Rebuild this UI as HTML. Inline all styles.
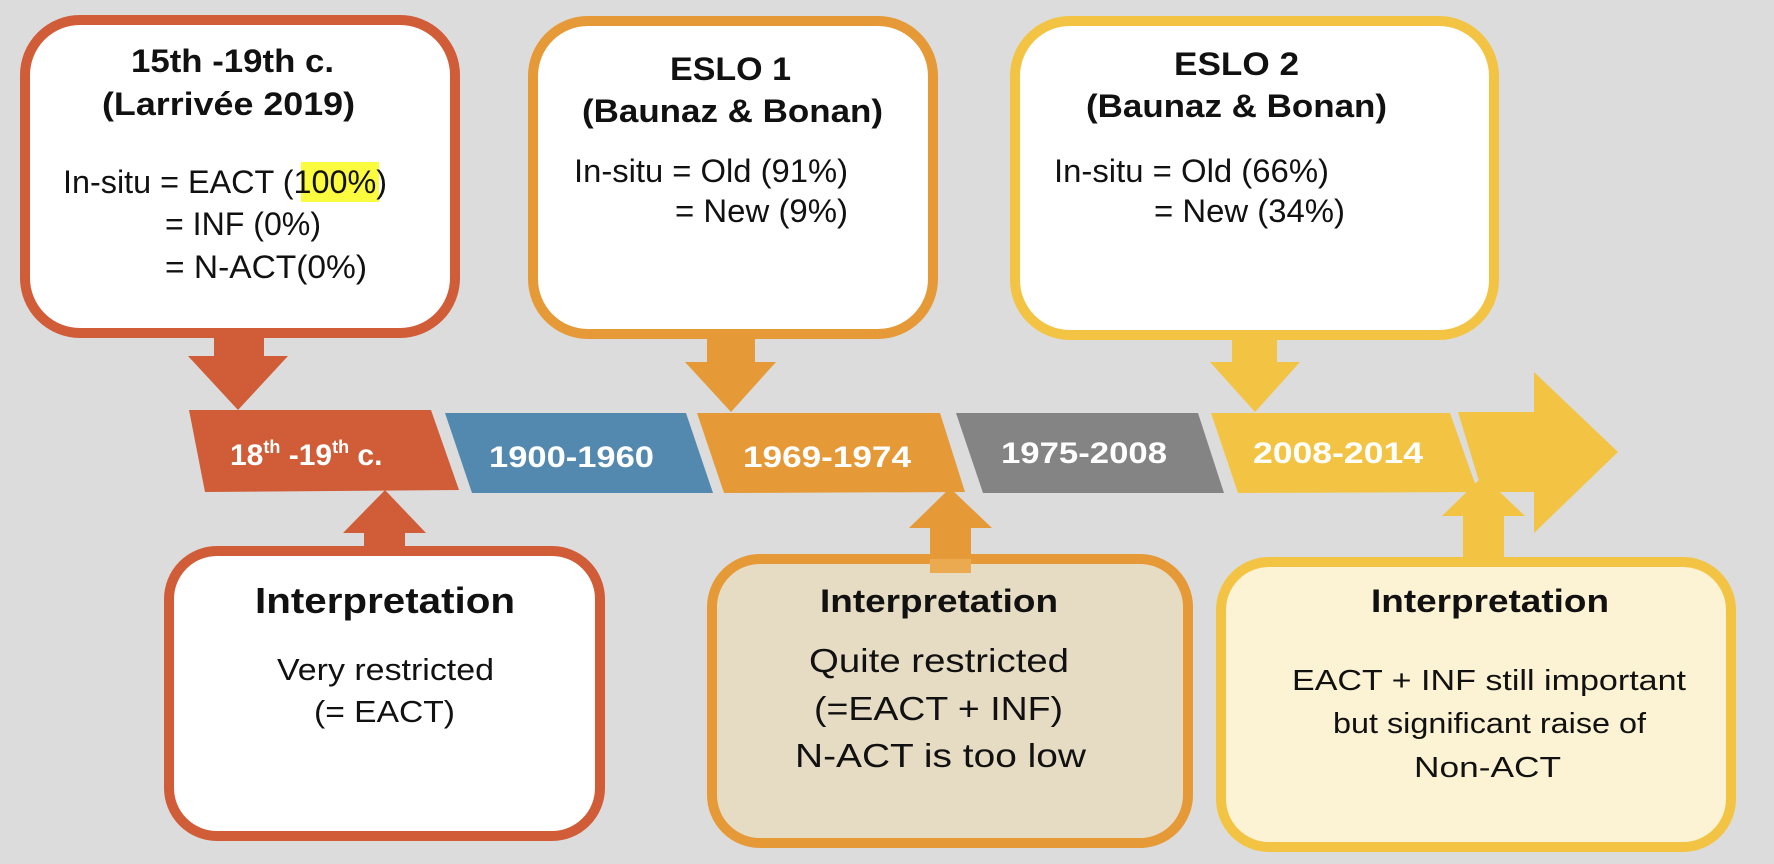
<!DOCTYPE html>
<html><head><meta charset="utf-8"><style>
html,body{margin:0;padding:0;background:#dcdcdc;}
svg{display:block;}
text{font-family:"Liberation Sans",sans-serif;fill:#111;}
.b{font-weight:bold;}
.w{fill:#fff;font-weight:bold;}
</style></head><body>
<svg width="1774" height="864" viewBox="0 0 1774 864" xmlns="http://www.w3.org/2000/svg">
<rect width="1774" height="864" fill="#dcdcdc"/>

<!-- top boxes -->
<rect x="25" y="20" width="430" height="313" rx="55" fill="#fff" stroke="#d05c38" stroke-width="10"/>
<polygon points="214,338 264,338 264,356 288,356 238,410 188,356 214,356" fill="#d05c38"/>
<rect x="533" y="21" width="400" height="313" rx="55" fill="#fff" stroke="#e69937" stroke-width="10"/>
<polygon points="707,339 755,339 755,362 776,362 731,412 685,362 707,362" fill="#e69937"/>
<rect x="1015" y="21" width="479" height="314" rx="55" fill="#fff" stroke="#f3c444" stroke-width="10"/>
<polygon points="1232,340 1277,340 1277,362 1300,362 1255,412 1210,362 1232,362" fill="#f3c444"/>

<!-- timeline -->
<polygon points="189,410 431,410 459,490 205,492" fill="#d05c38"/>
<polygon points="445,413 686,413 713,493 472,493" fill="#5489af"/>
<polygon points="697,413 940,413 965,492 724,493" fill="#e69937"/>
<polygon points="956,413 1198,413 1224,493 983,493" fill="#848484"/>
<polygon points="1211,413 1450,413 1478,492 1238,493" fill="#f3c444"/>
<polygon points="1458,412 1534,412 1534,372 1618,452 1534,533 1534,492 1484,492 1478,478" fill="#f3c444"/>

<!-- bottom arrows -->
<polygon points="364,546 405,546 405,533 426,533 385,490 343,533 364,533" fill="#d05c38"/>
<polygon points="930,572 971,572 971,528 992,528 950,488 909,528 930,528" fill="#e69937"/>
<polygon points="1463,557 1504,557 1504,516 1525,516 1483,476 1442,516 1463,516" fill="#f3c444"/>

<!-- bottom boxes -->
<rect x="169" y="551" width="431" height="285" rx="48" fill="#fff" stroke="#d05c38" stroke-width="10"/>
<rect x="712" y="559" width="476" height="284" rx="48" fill="#e6dcc4" stroke="#e69937" stroke-width="10"/>
<rect x="930" y="559" width="41" height="14" fill="#ecaa50"/>
<rect x="1221" y="562" width="510" height="285" rx="48" fill="#fcf2d4" stroke="#f3c444" stroke-width="10"/>
<rect x="1463" y="557" width="41" height="10" fill="#f3c444"/>

<!-- box1 text -->
<text class="b" x="131" y="72" font-size="32" textLength="203" lengthAdjust="spacingAndGlyphs">15th -19th c.</text>
<text class="b" x="102" y="115" font-size="32" textLength="253" lengthAdjust="spacingAndGlyphs">(Larrivée 2019)</text>
<rect x="301" y="162" width="78" height="40" fill="#fbfb3f"/>
<text x="63" y="193" font-size="32" textLength="324" lengthAdjust="spacingAndGlyphs">In-situ = EACT (100%)</text>
<text x="165" y="235" font-size="32" textLength="156" lengthAdjust="spacingAndGlyphs">= INF (0%)</text>
<text x="165" y="278" font-size="32" textLength="202" lengthAdjust="spacingAndGlyphs">= N-ACT(0%)</text>

<!-- box2 text -->
<text class="b" x="670" y="80" font-size="32" textLength="121" lengthAdjust="spacingAndGlyphs">ESLO 1</text>
<text class="b" x="582" y="122" font-size="32" textLength="301" lengthAdjust="spacingAndGlyphs">(Baunaz &amp; Bonan)</text>
<text x="574" y="182" font-size="32" textLength="274" lengthAdjust="spacingAndGlyphs">In-situ = Old (91%)</text>
<text x="675" y="222" font-size="32" textLength="173" lengthAdjust="spacingAndGlyphs">= New (9%)</text>

<!-- box3 text -->
<text class="b" x="1174" y="75" font-size="32" textLength="125" lengthAdjust="spacingAndGlyphs">ESLO 2</text>
<text class="b" x="1086" y="117" font-size="32" textLength="301" lengthAdjust="spacingAndGlyphs">(Baunaz &amp; Bonan)</text>
<text x="1054" y="182" font-size="32" textLength="275" lengthAdjust="spacingAndGlyphs">In-situ = Old (66%)</text>
<text x="1154" y="222" font-size="32" textLength="191" lengthAdjust="spacingAndGlyphs">= New (34%)</text>

<!-- timeline labels -->
<text class="w" x="230" y="465" font-size="30">18<tspan font-size="18" dy="-12">th</tspan><tspan dy="12"> -19</tspan><tspan font-size="18" dy="-12">th</tspan><tspan dy="12"> c.</tspan></text>
<text class="w" x="489" y="467" font-size="30" textLength="165" lengthAdjust="spacingAndGlyphs">1900-1960</text>
<text class="w" x="743" y="467" font-size="30" textLength="168" lengthAdjust="spacingAndGlyphs">1969-1974</text>
<text class="w" x="1001" y="463" font-size="30" textLength="166" lengthAdjust="spacingAndGlyphs">1975-2008</text>
<text class="w" x="1253" y="463" font-size="30" textLength="170" lengthAdjust="spacingAndGlyphs">2008-2014</text>

<!-- bottom text -->
<text class="b" x="255" y="613" font-size="36" textLength="260" lengthAdjust="spacingAndGlyphs">Interpretation</text>
<text x="277" y="680" font-size="31" textLength="217" lengthAdjust="spacingAndGlyphs">Very restricted</text>
<text x="314" y="722" font-size="31" textLength="141" lengthAdjust="spacingAndGlyphs">(= EACT)</text>

<text class="b" x="820" y="612" font-size="32" textLength="238" lengthAdjust="spacingAndGlyphs">Interpretation</text>
<text x="809" y="672" font-size="33" textLength="260" lengthAdjust="spacingAndGlyphs">Quite restricted</text>
<text x="814" y="720" font-size="33" textLength="249" lengthAdjust="spacingAndGlyphs">(=EACT + INF)</text>
<text x="795" y="767" font-size="33" textLength="291" lengthAdjust="spacingAndGlyphs">N-ACT is too low</text>

<text class="b" x="1371" y="612" font-size="32" textLength="238" lengthAdjust="spacingAndGlyphs">Interpretation</text>
<text x="1292" y="690" font-size="29" textLength="394" lengthAdjust="spacingAndGlyphs">EACT + INF still important</text>
<text x="1333" y="733" font-size="29" textLength="313" lengthAdjust="spacingAndGlyphs">but significant raise of</text>
<text x="1414" y="777" font-size="29" textLength="147" lengthAdjust="spacingAndGlyphs">Non-ACT</text>
</svg>
</body></html>
